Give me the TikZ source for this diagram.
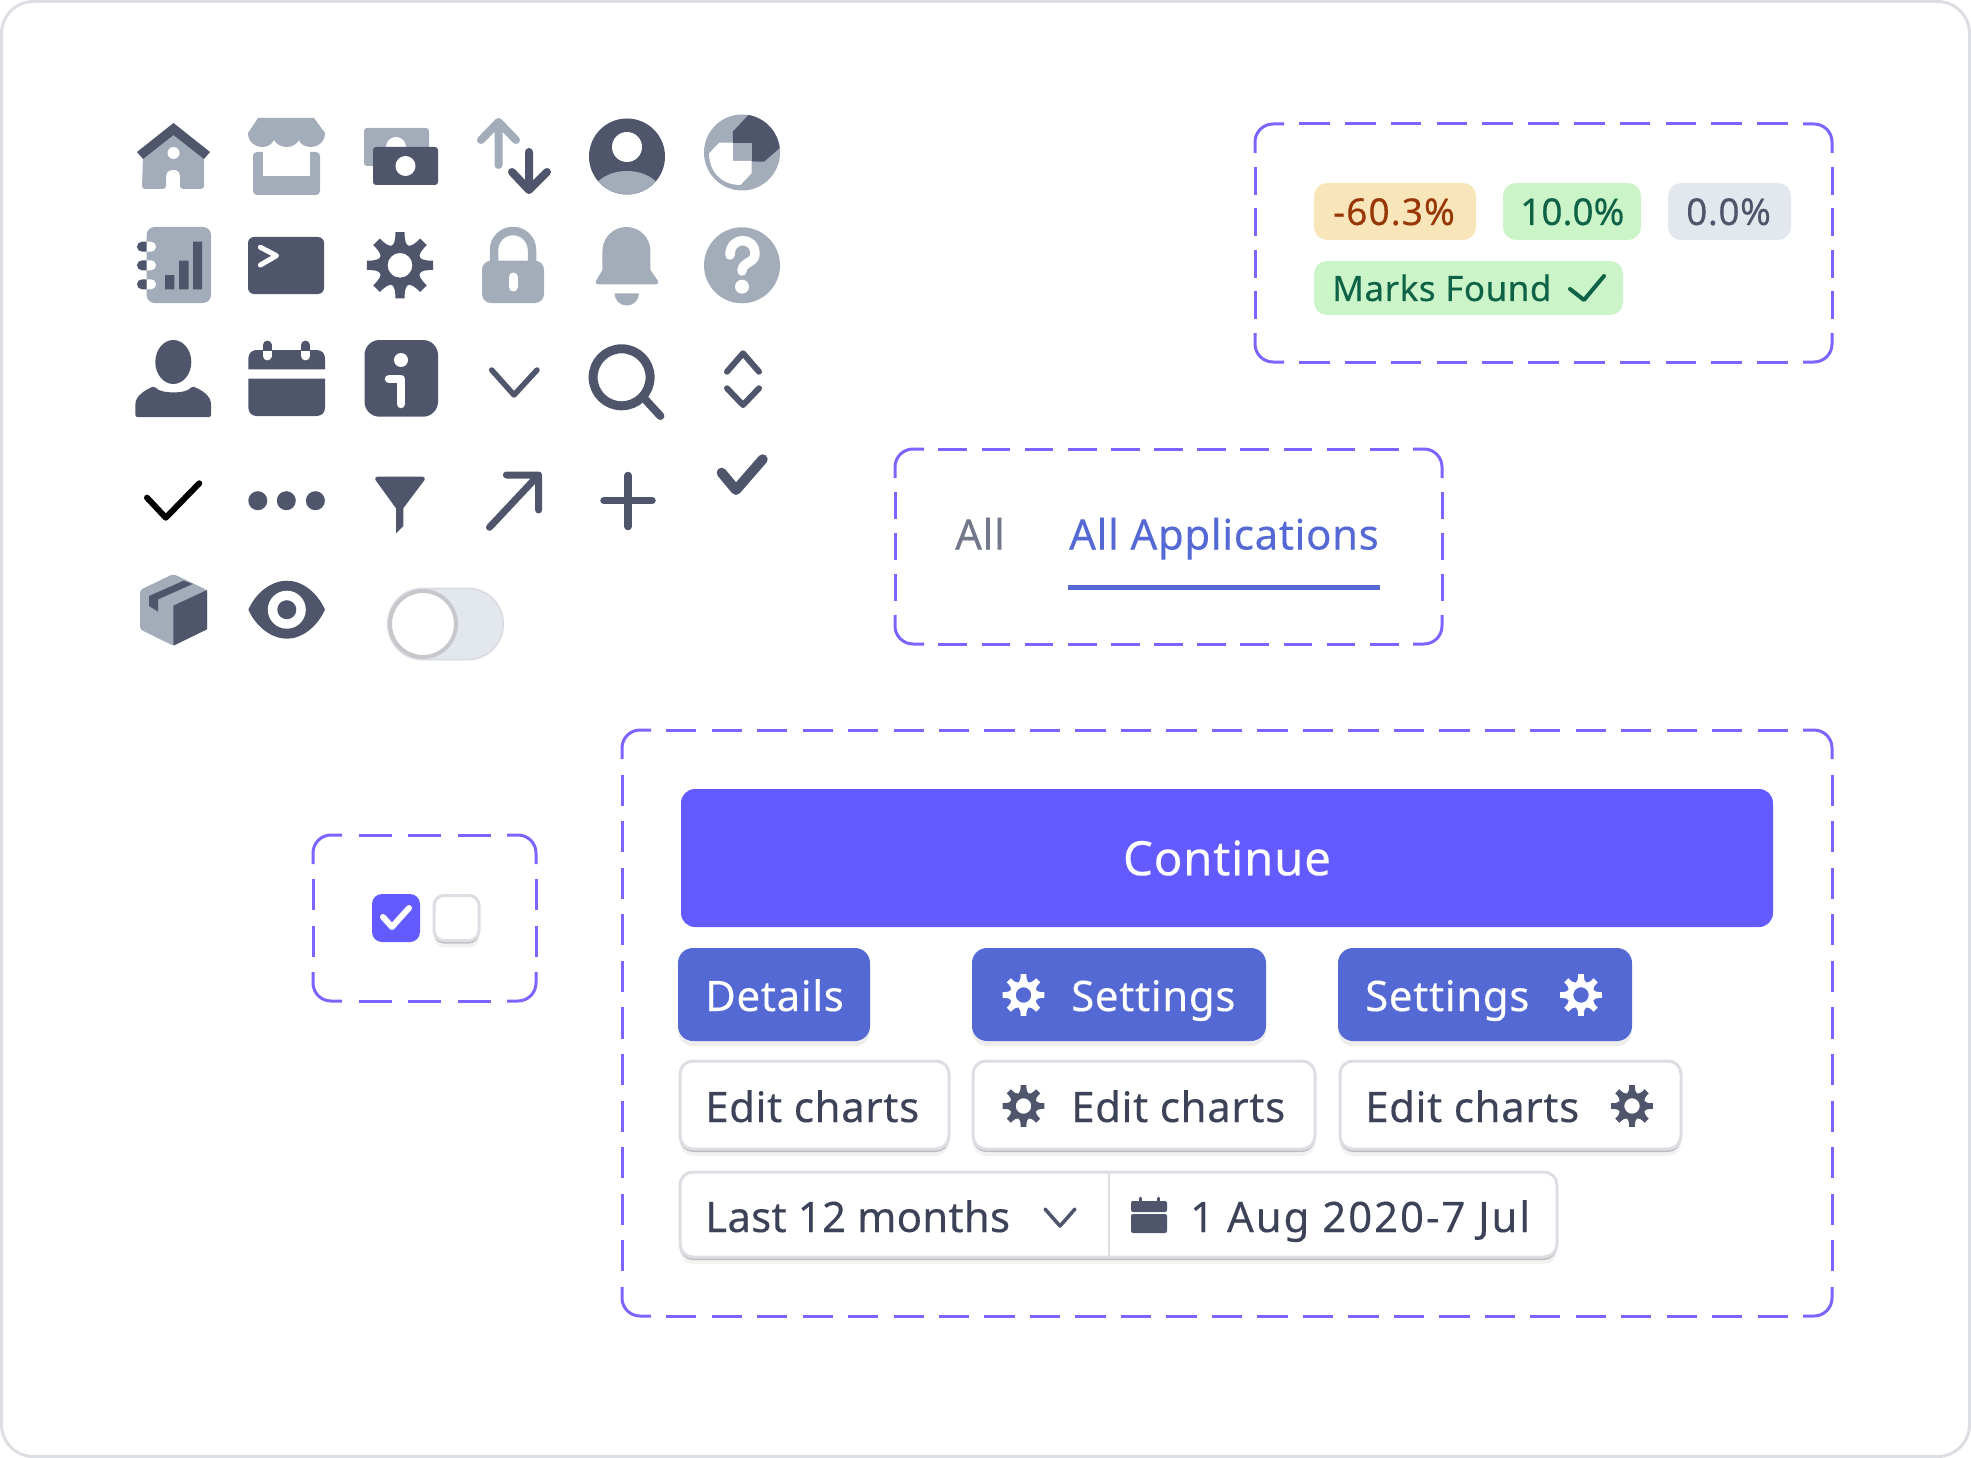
\documentclass[tikz,border=0pt]{standalone}
\usepackage{fontspec}
\setmainfont[LetterSpace=1.5,FakeBold=.25]{Noto Sans}
\usetikzlibrary{shadows}
\definecolor{cdark}{HTML}{4F566B}
\definecolor{clight}{HTML}{A3ACB9}
\definecolor{cink}{HTML}{3C4257}
\definecolor{cviolet}{HTML}{7A66FF}
\definecolor{cbrand}{HTML}{635BFF}
\definecolor{cblue}{HTML}{5469D4}
\definecolor{cedge}{HTML}{DDDEE3}
\definecolor{cpale}{HTML}{E3E8EE}
\definecolor{cmint}{HTML}{CBF4C9}
\definecolor{cforest}{HTML}{0E6245}
\definecolor{csand}{HTML}{F8E5BA}
\definecolor{crust}{HTML}{983705}
\tikzset{
  gear/.pic={
    \fill[even odd rule] (-8:1)
      \foreach \a in {0,45,...,315} {
        -- (\a-8:1) -- (\a+8:1)
        .. controls (\a+10:.76) and (\a+16:.64) .. (\a+22.5:.64)
        .. controls (\a+29:.64) and (\a+35:.76) .. (\a+37:1)
      } -- cycle (0,0) circle[radius=.37];
  }
}
\newcommand{\groupframe}[4]{
  \pgfmathsetmacro{\gw}{(#3-#1-58)/(3*round(((#3-#1-58)/15-1)/3)+1)}
  \pgfmathsetmacro{\gh}{(#4-#2-58)/(3*round(((#4-#2-58)/15-1)/3)+1)}
  \pgfmathsetmacro{\dw}{2*\gw}
  \pgfmathsetmacro{\dh}{2*\gh}
  \draw[groupline,rounded corners=18pt] (#1,#2+29) -- (#1,#2) -- (#1+29,#2);
  \draw[groupline,rounded corners=18pt] (#3-29,#2) -- (#3,#2) -- (#3,#2+29);
  \draw[groupline,rounded corners=18pt] (#3,#4-29) -- (#3,#4) -- (#3-29,#4);
  \draw[groupline,rounded corners=18pt] (#1+29,#4) -- (#1,#4) -- (#1,#4-29);
  \draw[groupline,dash pattern=on \dw pt off \gw pt,dash phase=\dw pt] (#1+29,#2) -- (#3-29,#2);
  \draw[groupline,dash pattern=on \dw pt off \gw pt,dash phase=\dw pt] (#1+29,#4) -- (#3-29,#4);
  \draw[groupline,dash pattern=on \dh pt off \gh pt,dash phase=\dh pt] (#1,#2+29) -- (#1,#4-29);
  \draw[groupline,dash pattern=on \dh pt off \gh pt,dash phase=\dh pt] (#3,#2+29) -- (#3,#4-29);
}
\begin{document}
\begin{tikzpicture}[x=1pt,y=-1pt,line cap=round,line join=round]
  \tikzstyle{groupline}=[draw=cviolet,line width=3pt,line cap=butt]
  \tikzstyle{pill}=[inner sep=0pt,outer sep=0pt,rounded corners=13pt]
  \tikzstyle{solidbtn}=[inner sep=0pt,outer sep=0pt,rounded corners=15pt,fill=cblue,drop shadow={shadow xshift=0pt,shadow yshift=-5pt,opacity=.07,fill=black}]
  \tikzstyle{linebtn}=[inner sep=0pt,outer sep=0pt,rounded corners=13pt,fill=white,draw=cedge,line width=3pt,
    drop shadow={shadow xshift=0pt,shadow yshift=-7pt,opacity=.05,fill=black},drop shadow={shadow xshift=0pt,shadow yshift=-3pt,opacity=.22,fill=black}]
  \tikzstyle{btntext}=[font=\fontsize{42}{42}\selectfont,anchor=base west,inner sep=0pt,text=cink]
  \tikzstyle{badgetext}=[font=\fontsize{35}{35}\selectfont,anchor=base west,inner sep=0pt]
  \tikzstyle{numtext}=[font=\fontsize{37}{37}\selectfont,anchor=base west,inner sep=0pt]
  \tikzstyle{darkline}=[draw=cdark,fill=none]
  \tikzstyle{lightline}=[draw=clight,fill=none]
  \useasboundingbox (0,0) rectangle (1971,1458);
  \draw[cedge,line width=3pt,rounded corners=32pt] (1.5,1.5) rectangle (1969.5,1456.5);

  \fill[clight] (143,156) -- (173.5,133) -- (204,156) -- (204,186) [rounded corners=3pt] -- (204,189) -- (180,189) -- (180,174) -- (178,170) -- (169,170) -- (166,174) -- (166,189) -- (142,189) -- cycle;
  \fill[white] (173.5,153) circle[radius=6];
  \fill[cdark] (173.5,123) -- (210,152) -- (204,159) -- (173.5,135) -- (143,159) -- (137,152) -- cycle;

  \fill[clight,rounded corners=4pt] (253,152) rectangle (320,195);
  \fill[white] (263,145) rectangle (310,176);
  \fill[clight] (258,118) -- (314,118) -- (325,133) .. controls (325,142) and (318,147) .. (311,147) .. controls (305,147) and (300,144) .. (299,140) .. controls (297,144) and (292,147) .. (286.5,147) .. controls (281,147) and (276,144) .. (274,140) .. controls (272,144) and (268,147) .. (262,147) .. controls (255,147) and (248,142) .. (248,133) -- cycle;

  \fill[clight,rounded corners=3pt] (364,128) rectangle (429,166);
  \fill[white] (396,147) circle[radius=10];
  \fill[cdark,rounded corners=3pt] (373,147) rectangle (438,185);
  \fill[white] (405.5,166) circle[radius=10];

  \draw[lightline,line width=8pt] (498.5,165) -- (498.5,122) (481,140) -- (498.5,122) -- (516,140);
  \draw[darkline,line width=8pt] (529,152) -- (529,190) (512,172) -- (529,190) -- (547,172);

  \fill[cdark] (627,156.5) circle[radius=38];
  \begin{scope}
    \clip (627,156.5) circle[radius=38];
    \fill[clight] (627,197) ellipse[x radius=36,y radius=26];
  \end{scope}
  \fill[white] (627,147) circle[radius=15];

  \fill[clight] (742,152.5) circle[radius=38];
  \begin{scope}
    \clip (742,152.5) circle[radius=38];
    \fill[cdark] (748.4,110) -- (748.4,115) -- (732.8,131.7) -- (732.8,161) -- (764,161.7) -- (782,146) -- (782,110) -- cycle;
  \end{scope}
  \fill[clight] (732.8,142.7) rectangle (751.5,161);
  \fill[white] (719.4,142.7) -- (732.8,142.7) -- (732.8,161) -- (751.5,161) -- (751.5,173.3) -- (740.4,185) .. controls (722,185) and (709,172) .. (709,153.3) -- cycle;

  \fill[clight,rounded corners=8pt] (146.6,227) rectangle (211,303);
  \fill[cdark] (165,275) rectangle (174.3,289.3) (179,260.7) rectangle (188.6,289.3) (193,241.7) rectangle (202,289.3);
  \foreach \y in {246.7,265.3,284.3} {
    \fill[white] (146.6,\y-5) -- (151,\y-5) arc[start angle=-90,end angle=90,radius=5] -- (146.6,\y+5) -- cycle;
    \fill[cdark] (146.6,\y-5) -- (142,\y-5) arc[start angle=270,end angle=90,radius=5] -- (146.6,\y+5) -- cycle;
  }

  \fill[cdark,rounded corners=6pt] (248,237) rectangle (324,294);
  \draw[white,line width=5pt] (260.4,247.3) -- (276.5,255.7) -- (260.4,265);

  \pic[cdark,scale=33.5] (setgear) at (400,265.3) {gear};

  \draw[lightline,line width=8.5pt] (494,265) -- (494,250) arc[start angle=180,end angle=360,radius=19] -- (532,265);
  \fill[clight,rounded corners=9pt] (482,260.7) rectangle (544,303);
  \draw[white,line width=9pt] (513,277) -- (513,287);

  \fill[clight] (602.4,251) arc[start angle=180,end angle=360,radius=24] -- (650.4,270) -- (658,281) .. controls (659,283) and (658,284.3) .. (655,284.3) -- (599,284.3) .. controls (596,284.3) and (595,283) .. (596,281) -- (602.4,270) -- cycle;
  \fill[clight] (614.5,293.3) -- (639,293.3) arc[start angle=0,end angle=180,radius=12.25] -- cycle;

  \fill[clight] (742,265.3) circle[radius=38];
  \draw[white,line width=9.5pt] (730,255) .. controls (730,236) and (755,236) .. (755,254) .. controls (755,263) and (742,262) .. (742,271);
  \fill[white] (742,286.7) circle[radius=7];

  \fill[cdark] (173.3,362) ellipse[x radius=18,y radius=22];
  \fill[cdark,rounded corners=2pt] (135.4,417) -- (135.4,406) .. controls (135.4,396) and (145,390) .. (154.6,386) .. controls (160,394) and (187,394) .. (191.7,386) .. controls (202,390) and (211,396) .. (211,406) -- (211,417) -- cycle;

  \fill[cdark] (248.4,369.3) -- (248.4,358) arc[start angle=180,end angle=270,radius=8] -- (317,350) arc[start angle=270,end angle=360,radius=8] -- (325,369.3) -- cycle;
  \fill[cdark] (248.4,378.7) -- (325,378.7) -- (325,408) arc[start angle=0,end angle=90,radius=8] -- (256.4,416) arc[start angle=90,end angle=180,radius=8] -- cycle;
  \foreach \x in {267.1,305.5} {
    \draw[white,line width=8.8pt] (\x,348) -- (\x,356);
    \begin{scope}
      \clip (\x-6,335) rectangle (\x+6,350);
      \draw[darkline,line width=8.8pt] (\x,345) -- (\x,356);
    \end{scope}
  }

  \fill[cdark,rounded corners=15pt] (364.5,340) rectangle (438,416.7);
  \fill[white] (401,360) circle[radius=7];
  \draw[white,line width=8.5pt] (389,379) -- (401,379) -- (401,404);

  \draw[darkline,line width=5.5pt] (491.7,370) -- (514,395) -- (537,370);
  \draw[darkline,line width=9pt] (621.6,377.3) circle[radius=28.5];
  \draw[darkline,line width=8pt] (645.7,400) -- (660.4,416);
  \draw[darkline,line width=6pt] (727,371.7) -- (743,353.3) -- (759,371.7) (727,388.3) -- (743,405) -- (759,388.3);

  \draw[black,line width=6pt] (147,497.7) -- (165.8,517.7) -- (199.3,483.3);
  \foreach \x in {257.8,286.3,315.4} \fill[cdark] (\x,500.7) circle[radius=9.5];
  \fill[cdark] (377,476.7) -- (423,476.7) .. controls (425,476.7) and (425,479) .. (424.5,480) -- (403.3,508.3) -- (403.3,526) -- (396,533.3) -- (396,508.3) -- (375.5,480) .. controls (375,479) and (375,476.7) .. (377,476.7) -- cycle;
  \draw[darkline,line width=7pt] (489.5,527.3) -- (538.6,475) (506.4,475) -- (538.6,475) -- (538.6,510);
  \draw[darkline,line width=7.5pt] (604,500.7) -- (652,500.7) (628,475.5) -- (628,526.5);
  \draw[darkline,line width=10pt] (721.6,472.7) -- (736,490) -- (762.7,459.3);

  \fill[clight,rounded corners=2pt] (173.3,574) -- (207,590) -- (207,629.3) -- (173.3,645.7) -- (140,629.3) -- (140,590) -- cycle;
  \fill[cdark] (173.3,605.7) -- (207,590) -- (207,629.3) -- (173.3,645.7) -- cycle;
  \fill[cdark] (149,596) -- (183.7,580.7) -- (192.6,584) -- (158.2,599.3) -- (158.2,611.7) -- (149,606) -- cycle;

  \fill[cdark] (248.4,609.7) .. controls (256,592) and (272,580.7) .. (286.8,580.7) .. controls (302,580.7) and (317,592) .. (325,609.7) .. controls (317,627) and (302,638.7) .. (286.8,638.7) .. controls (272,638.7) and (256,627) .. (248.4,609.7) -- cycle;
  \fill[white] (286.8,609.7) circle[radius=19];
  \fill[cdark] (286.8,609.7) circle[radius=9.5];

  \node[draw=cedge,fill=cpale,line width=2pt,inner sep=0pt,outer sep=0pt,rounded corners=35pt,minimum width=115pt,minimum height=71pt] (toggletrack) at (445.5,624) {};
  \node[circle,draw=cedge!90!black,fill=white,line width=4pt,inner sep=0pt,outer sep=0pt,minimum size=66pt] (toggleknob) at (423,624) {};

  \groupframe{1255}{124}{1832}{362}
  \node[pill,fill=csand,minimum width=162pt,minimum height=57pt] (badgedown) at (1395,211.5) {};
  \node[pill,fill=cmint,minimum width=138pt,minimum height=57pt] (badgeup) at (1572,211.5) {};
  \node[pill,fill=cpale,minimum width=123pt,minimum height=57pt] (badgeflat) at (1729.5,211.5) {};
  \node[pill,fill=cmint,minimum width=309pt,minimum height=54pt] (badgemarks) at (1468.5,288) {};
  \node[numtext,text=crust,font=\fontsize{37}{37}\selectfont\addfontfeature{LetterSpace=3}] (textdown) at (1333,225) {-60.3\%};
  \node[numtext,text=cforest,font=\fontsize{37}{37}\selectfont\addfontfeature{LetterSpace=0}] (textup) at (1520,225) {10.0\%};
  \node[numtext,text=cdark] (textflat) at (1686,225) {0.0\%};
  \node[badgetext,text=cforest] (textmarks) at (1332,301) {Marks Found};
  \draw[cforest,line width=4pt] (1570,289) -- (1584,300) -- (1604,276);

  \groupframe{895}{449}{1442}{644}
  \node[btntext,text=cdark!80!white] (taball) at (955,549.5) {All};
  \node[btntext,text=cblue] (tabapps) at (1069,549.5) {All Applications};
  \draw[cblue,line width=5pt,line cap=butt] (1068,587) -- (1380,587);

  \groupframe{313}{835}{536}{1001}
  \node[fill=cbrand,inner sep=0pt,outer sep=0pt,rounded corners=10pt,minimum size=48pt] (checkon) at (396,918) {};
  \draw[white,line width=6pt] (383,917) -- (392,927) -- (409,908);
  \node[linebtn,rounded corners=10pt,minimum size=45pt] (checkoff) at (456.5,918) {};

  \groupframe{622}{730}{1832}{1316}
  \node[fill=cbrand,inner sep=0pt,rounded corners=14pt,minimum width=1092pt,minimum height=138pt,text=white,font=\fontsize{47.5}{47.5}\selectfont] (continue) at (1227,858) {Continue};

  \node[solidbtn,minimum width=192pt,minimum height=93pt] (details) at (774,994.5) {};
  \node[solidbtn,minimum width=294pt,minimum height=93pt] (settingsa) at (1119,994.5) {};
  \node[solidbtn,minimum width=294pt,minimum height=93pt] (settingsb) at (1485,994.5) {};
  \node[btntext,text=white] (textdetails) at (705,1011) {Details};
  \node[btntext,text=white] (textsettingsa) at (1071,1011) {Settings};
  \node[btntext,text=white] (textsettingsb) at (1365,1011) {Settings};
  \pic[white,scale=21] (geara) at (1023.5,995) {gear};
  \pic[white,scale=21] (gearb) at (1581,995) {gear};

  \node[linebtn,minimum width=269pt,minimum height=88pt] (edita) at (814.5,1105) {};
  \node[linebtn,minimum width=342pt,minimum height=88pt] (editb) at (1144,1105) {};
  \node[linebtn,minimum width=341pt,minimum height=88pt] (editc) at (1510.5,1105) {};
  \node[btntext] (textedita) at (705,1122) {Edit charts};
  \node[btntext] (texteditb) at (1071,1122) {Edit charts};
  \node[btntext] (texteditc) at (1365,1122) {Edit charts};
  \pic[cdark,scale=21] (gearc) at (1023.5,1106) {gear};
  \pic[cdark,scale=21] (geard) at (1632,1106) {gear};

  \node[linebtn,minimum width=877pt,minimum height=85pt] (range) at (1118.5,1214.5) {};
  \coordinate (splittop) at (1109,1173);
  \coordinate (splitbot) at (1109,1256);
  \draw[cedge,line width=2.5pt,line cap=butt] (splittop) -- (splitbot);
  \node[btntext,font=\fontsize{42}{42}\selectfont\addfontfeature{LetterSpace=.5}] (textperiod) at (705,1232) {Last 12 months};
  \draw[darkline,line width=3.5pt] (1045,1209) -- (1060,1226) -- (1075,1209);
  \fill[cdark,rounded corners=2pt] (1131,1201) rectangle (1167,1212);
  \fill[cdark,rounded corners=2pt] (1131,1214) rectangle (1167,1233);
  \draw[cdark,line width=3pt] (1140,1198) -- (1140,1203) (1158,1198) -- (1158,1203);
  \node[btntext,font=\fontsize{42}{42}\selectfont\addfontfeature{LetterSpace=4.5}] (textdates) at (1190,1232) {1 Aug 2020-7 Jul};
\end{tikzpicture}
\end{document}
